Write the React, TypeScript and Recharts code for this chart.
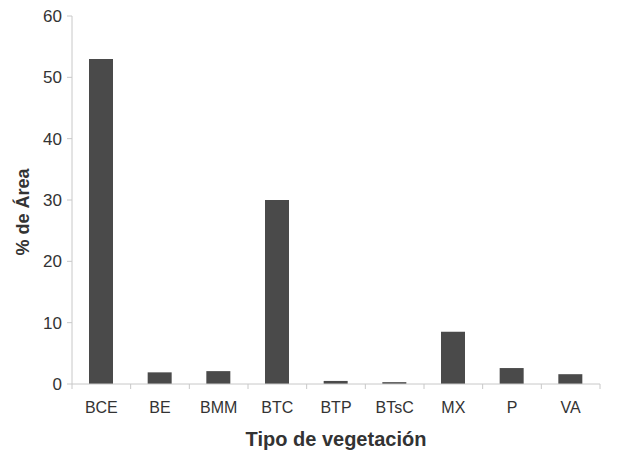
import React from 'react';
import { BarChart, Bar, XAxis, YAxis, Label } from 'recharts';

const categories = ['BCE', 'BE', 'BMM', 'BTC', 'BTP', 'BTsC', 'MX', 'P', 'VA'];
const areaPct = [53.0, 1.9, 2.1, 30.0, 0.5, 0.3, 8.5, 2.6, 1.6];
const yTicks = [0, 10, 20, 30, 40, 50, 60];

const W = 617;
const H = 451;
const M = { top: 16, right: 17, left: 0, bottom: 0 };
const Y_AXIS_W = 72;
const FONT = '"Liberation Sans", Arial, sans-serif';
const AXIS = '#c8c8c8';
const TEXT = '#333333';
const BAR = '#4a4a4a';

const chartData = categories.map((cat, i) => ({ cat, value: areaPct[i] }));
const band = (W - M.right - Y_AXIS_W) / categories.length;

// category tick: label in the middle, tick marks on the band edges
function CatTick(props: any) {
  const { x, y, payload, index } = props;
  const off = payload?.offset || band / 2;
  return (
    <g>
      <line x1={x - off} x2={x - off} y1={y} y2={y + 5} stroke={AXIS} />
      {index === categories.length - 1 && (
        <line x1={x + off} x2={x + off} y1={y} y2={y + 5} stroke={AXIS} />
      )}
      <text x={x} y={y + 18} dy="0.71em" textAnchor="middle" fill={TEXT} fontSize={16} fontFamily={FONT}>
        {payload.value}
      </text>
    </g>
  );
}

function YTitle(props: any) {
  const vb = props.viewBox || {};
  const cx = vb.x + 23;
  const cy = vb.y + vb.height / 2 + 12;
  return (
    <text
      x={cx}
      y={cy}
      transform={`rotate(-90, ${cx}, ${cy})`}
      textAnchor="middle"
      dominantBaseline="central"
      fill={TEXT}
      fontSize={18}
      fontWeight="bold"
      fontFamily={FONT}
    >
      % de Área
    </text>
  );
}

export default function App() {
  return (
    <div style={{ position: 'absolute', left: 0, top: 0, width: W, height: H, background: '#fff' }}>
      <BarChart width={W} height={H} data={chartData} margin={M}>
        <XAxis
          dataKey="cat"
          height={H - 384 - M.bottom}
          stroke={AXIS}
          tickLine={false}
          tickSize={0}
          tickMargin={0}
          interval={0}
          tick={<CatTick />}
        >
          <Label
            value="Tipo de vegetación"
            position="insideBottom"
            offset={5}
            fill={TEXT}
            fontSize={20}
            fontWeight="bold"
            fontFamily={FONT}
          />
        </XAxis>
        <YAxis
          width={Y_AXIS_W}
          domain={[0, 60]}
          ticks={yTicks}
          interval={0}
          stroke={AXIS}
          tickSize={5}
          tickMargin={5}
          tick={{ fill: TEXT, fontSize: 17, fontFamily: FONT }}
        >
          <Label content={<YTitle />} />
        </YAxis>
        <Bar dataKey="value" fill={BAR} barSize={24} isAnimationActive={false} />
      </BarChart>
    </div>
  );
}
